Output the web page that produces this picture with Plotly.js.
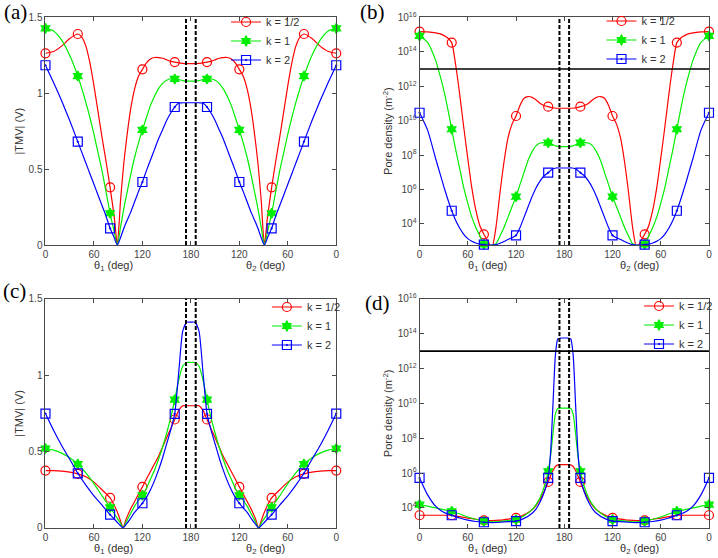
<!DOCTYPE html>
<html>
<head>
<meta charset="utf-8">
<script src="https://cdn.plot.ly/plotly-3.0.1.min.js"></script>
<style>
  html, body { margin: 0; padding: 0; background: #fff; }
  #chart { width: 718px; height: 558px; }
</style>
</head>
<body>
<div id="chart"></div>
<script>
// Series styling, one per conductivity ratio k
const kNames = ['k = 1/2', 'k = 1', 'k = 2'];
const kColors = ['#ff0000', '#00ee00', '#0000ff'];
const kSymbols = ['circle-open', 'hexagram', 'square-open-dot'];
const kSizes = [9, 7.5, 9];

// theta1 runs 0..180 on the left half, theta2 comes back 180..0 on the right half
const xTickVals = [0, 60, 120, 180, 240, 300, 360];
const xTickText = ['0', '60', '120', '180', '120', '60', '0'];
const markerTheta = [0, 40, 80, 120, 160];
const gapEdges = [174, 186];       // dashed lines either side of 180 deg
const poreThreshold = 1e13;        // solid line in (b) and (d)
const logTickExp = [4, 6, 8, 10, 12, 14, 16];

// (a) |TMV| (V)
const thetaA = [0, 10, 20, 30, 40, 45, 50, 55, 60, 65, 70, 75, 80, 85, 89, 93, 97, 100, 105, 110, 115, 120, 125, 130, 135, 140, 145, 150, 155, 160, 165, 170, 175, 180];
const tmvA_half = [1.263, 1.275, 1.31, 1.36, 1.39, 1.37, 1.31, 1.20, 1.05, 0.88, 0.71, 0.55, 0.38, 0.19, 0, 0.30, 0.54, 0.68, 0.88, 1.02, 1.11, 1.157, 1.20, 1.225, 1.235, 1.235, 1.23, 1.22, 1.21, 1.205, 1.20, 1.197, 1.195, 1.195];
const tmvA_one = [1.427, 1.41, 1.35, 1.25, 1.113, 1.03, 0.94, 0.84, 0.73, 0.61, 0.49, 0.35, 0.209, 0.09, 0, 0.12, 0.24, 0.32, 0.45, 0.57, 0.67, 0.758, 0.84, 0.92, 0.98, 1.03, 1.065, 1.085, 1.095, 1.094, 1.09, 1.083, 1.08, 1.08];
const tmvA_two = [1.184, 1.07, 0.95, 0.82, 0.681, 0.61, 0.54, 0.47, 0.40, 0.33, 0.26, 0.19, 0.11, 0.05, 0, 0.05, 0.11, 0.15, 0.21, 0.28, 0.35, 0.415, 0.49, 0.56, 0.63, 0.70, 0.76, 0.82, 0.87, 0.909, 0.935, 0.937, 0.937, 0.937];

// (b) pore density, log10 of m^-2
const thetaB = [0, 10, 20, 25, 30, 35, 40, 45, 50, 55, 60, 65, 70, 75, 80, 85, 90, 95, 100, 105, 110, 115, 120, 125, 130, 135, 140, 145, 150, 155, 160, 165, 170, 175, 180];
const poreB_half = [15.17, 15.15, 15.1, 15.05, 14.95, 14.8, 14.53, 13.2, 11.5, 9.6, 7.8, 6.1, 4.8, 3.9, 3.4, 3.0, 2.6, 3.8, 5.8, 7.6, 9.0, 9.8, 10.27, 10.9, 11.3, 11.4, 11.35, 11.2, 11.0, 10.88, 10.81, 10.75, 10.72, 10.72, 10.72];
const poreB_one = [14.92, 14.55, 13.5, 12.7, 11.8, 10.7, 9.5, 8.3, 7.2, 6.1, 5.2, 4.4, 3.8, 3.3, 2.82, 2.78, 2.76, 2.85, 3.3, 3.8, 4.4, 5.0, 5.59, 6.3, 7.0, 7.7, 8.2, 8.55, 8.7, 8.73, 8.72, 8.62, 8.52, 8.49, 8.49];
const poreB_two = [10.46, 9.45, 7.8, 7.0, 6.2, 5.45, 4.77, 4.2, 3.75, 3.4, 3.15, 3.0, 2.9, 2.83, 2.8, 2.78, 2.78, 2.8, 2.88, 2.98, 3.1, 3.2, 3.34, 3.8, 4.4, 5.0, 5.6, 6.1, 6.5, 6.8, 6.98, 7.18, 7.25, 7.25, 7.25];

// (c) |TMV| (V)
const thetaC = [0, 10, 20, 30, 40, 50, 60, 70, 80, 85, 90, 93, 96, 100, 105, 110, 115, 120, 125, 130, 135, 140, 145, 150, 155, 160, 165, 170, 175, 180];
const tmvC_half = [0.376, 0.375, 0.372, 0.366, 0.354, 0.335, 0.30, 0.25, 0.197, 0.15, 0.09, 0.045, 0, 0.06, 0.12, 0.17, 0.22, 0.269, 0.32, 0.37, 0.42, 0.47, 0.53, 0.59, 0.65, 0.71, 0.77, 0.80, 0.80, 0.80];
const tmvC_one = [0.52, 0.51, 0.49, 0.46, 0.419, 0.36, 0.29, 0.21, 0.135, 0.095, 0.055, 0.03, 0, 0.04, 0.09, 0.14, 0.18, 0.214, 0.26, 0.32, 0.38, 0.45, 0.53, 0.62, 0.72, 0.84, 0.97, 1.06, 1.083, 1.083];
const tmvC_two = [0.749, 0.64, 0.54, 0.45, 0.358, 0.28, 0.21, 0.15, 0.087, 0.06, 0.03, 0.015, 0, 0.025, 0.06, 0.1, 0.13, 0.162, 0.2, 0.25, 0.31, 0.38, 0.46, 0.55, 0.64, 0.747, 1.02, 1.29, 1.347, 1.347];

// (d) pore density, log10 of m^-2
const thetaD = [0, 10, 20, 30, 40, 50, 60, 70, 80, 90, 100, 110, 120, 130, 140, 145, 150, 155, 160, 163, 166, 169, 172, 176, 180];
const poreD_half = [3.58, 3.58, 3.58, 3.58, 3.58, 3.5, 3.42, 3.35, 3.29, 3.27, 3.3, 3.36, 3.43, 3.6, 3.9, 4.15, 4.5, 4.95, 5.49, 5.85, 6.15, 6.38, 6.47, 6.48, 6.48];
const poreD_one = [4.19, 4.1, 4.0, 3.9, 3.81, 3.65, 3.48, 3.35, 3.24, 3.2, 3.22, 3.27, 3.33, 3.55, 3.9, 4.2, 4.6, 5.2, 6.1, 7.0, 8.3, 9.4, 9.7, 9.73, 9.73];
const poreD_two = [5.72, 4.75, 4.1, 3.75, 3.58, 3.42, 3.3, 3.22, 3.18, 3.16, 3.18, 3.21, 3.24, 3.4, 3.7, 3.95, 4.35, 4.9, 5.72, 7.2, 10.0, 12.8, 13.7, 13.75, 13.75];

const axisColor = '#4a4a4a';
const tickFont = { family: 'Liberation Sans, Arial, sans-serif', size: 10, color: '#444' };

// left half is theta1, right half is the same sweep seen from theta2
function unfold(theta, vals, closeAt180) {
  const back = closeAt180 ? theta.slice(0, -1).reverse() : theta.slice().reverse();
  const backVals = closeAt180 ? vals.slice(0, -1).reverse() : vals.slice().reverse();
  return {
    x: theta.concat(back.map(t => 360 - t)),
    y: vals.concat(backVals)
  };
}

function addPanel(traces, theta, series, n, isLog) {
  const xa = n === 1 ? 'x' : 'x' + n;
  const ya = n === 1 ? 'y' : 'y' + n;
  const legendId = n === 1 ? 'legend' : 'legend' + n;
  const toY = isLog ? (v => Math.pow(10, v)) : (v => v);

  series.forEach((vals, i) => {
    const line = unfold(theta, vals, true);
    traces.push({
      x: line.x, y: line.y.map(toY), xaxis: xa, yaxis: ya,
      mode: 'lines', showlegend: false, hoverinfo: 'skip',
      line: { color: kColors[i], width: 1.2, shape: 'spline', smoothing: 0.6 }
    });

    const picked = markerTheta.map(t => vals[theta.indexOf(t)]);
    const pts = unfold(markerTheta, picked, false);
    const marker = { symbol: kSymbols[i], size: kSizes[i], color: kColors[i], line: { color: kColors[i], width: 1.2 } };
    traces.push({
      x: pts.x, y: pts.y.map(toY), xaxis: xa, yaxis: ya,
      mode: 'markers', showlegend: false, hoverinfo: 'skip', cliponaxis: false,
      marker: marker
    });

    // legend-only entry so the key shows line + marker
    traces.push({
      x: [null], y: [null], xaxis: xa, yaxis: ya, name: kNames[i], legend: legendId,
      mode: 'lines+markers',
      line: { color: kColors[i], width: 1.2 },
      marker: marker
    });
  });

  if (isLog) {
    traces.push({
      x: [0, 360], y: [poreThreshold, poreThreshold], xaxis: xa, yaxis: ya,
      mode: 'lines', showlegend: false, hoverinfo: 'skip',
      line: { color: '#000', width: 1.6 }
    });
  }
}

function xAxis(domain, anchor) {
  return {
    domain: domain, anchor: anchor, range: [0, 360],
    tickmode: 'array', tickvals: xTickVals, ticktext: xTickText,
    ticks: 'inside', ticklen: 4, tickcolor: axisColor,
    showline: true, linecolor: axisColor, linewidth: 1, mirror: 'ticks',
    showgrid: false, zeroline: false, tickfont: tickFont
  };
}

function yAxis(domain, anchor, isLog, lowExp) {
  const ax = {
    domain: domain, anchor: anchor,
    ticks: 'inside', ticklen: 4, tickcolor: axisColor,
    showline: true, linecolor: axisColor, linewidth: 1, mirror: 'ticks',
    showgrid: false, zeroline: false, tickfont: tickFont,
    title: { standoff: 2, font: { family: 'Liberation Sans, Arial, sans-serif', size: 11, color: '#333' } }
  };
  if (isLog) {
    ax.type = 'log';
    ax.range = [lowExp, 16];
    ax.tickmode = 'array';
    ax.tickvals = logTickExp.map(e => Math.pow(10, e));
    ax.ticktext = logTickExp.map(e => '10<sup>' + e + '</sup>');
    ax.title.text = 'Pore density (m<sup>-2</sup>)';
  } else {
    ax.range = [0, 1.5];
    ax.tickmode = 'array';
    ax.tickvals = [0, 0.5, 1, 1.5];
    ax.ticktext = ['0', '0.5', '1', '1.5'];
    ax.title.text = '|TMV| (V)';
  }
  return ax;
}

const traces = [];
addPanel(traces, thetaA, [tmvA_half, tmvA_one, tmvA_two], 1, false);
addPanel(traces, thetaB, [poreB_half, poreB_one, poreB_two], 2, true);
addPanel(traces, thetaC, [tmvC_half, tmvC_one, tmvC_two], 3, false);
addPanel(traces, thetaD, [poreD_half, poreD_one, poreD_two], 4, true);

const leftX = [0.0636, 0.4703];
const rightX = [0.5868, 0.9916];
const topY = [0.5609, 0.969];
const bottomY = [0.0538, 0.4645];

// dashed gap markers on every panel
const shapes = [];
['x', 'x2', 'x3', 'x4'].forEach((xr, i) => {
  const yr = i === 0 ? 'y domain' : 'y' + (i + 1) + ' domain';
  gapEdges.forEach(g => {
    shapes.push({
      type: 'line', xref: xr, yref: yr, x0: g, x1: g, y0: 0, y1: 1,
      line: { color: '#000', width: 2, dash: '4px,2px' }
    });
  });
});

const titleFont = { family: 'Liberation Sans, Arial, sans-serif', size: 11, color: '#333' };
const panelFont = { family: 'Liberation Serif, Times New Roman, serif', size: 21, color: '#000' };
const annotations = [];
[['x', 266], ['x2', 266], ['x3', 549], ['x4', 549]].forEach(([xr, py]) => {
  const yp = 1 - py / 558;
  annotations.push({ xref: xr, yref: 'paper', x: 84, y: yp, yanchor: 'middle', text: 'θ<sub>1</sub> (deg)', showarrow: false, font: titleFont });
  annotations.push({ xref: xr, yref: 'paper', x: 273, y: yp, yanchor: 'middle', text: 'θ<sub>2</sub> (deg)', showarrow: false, font: titleFont });
});
[['(a)', 2, 11.5], ['(b)', 359, 11.5], ['(c)', 1, 291], ['(d)', 365, 303]].forEach(([t, px, py]) => {
  annotations.push({
    xref: 'paper', yref: 'paper', x: px / 718, y: 1 - py / 558,
    xanchor: 'left', yanchor: 'middle', text: t, showarrow: false, font: panelFont
  });
});

function legendAt(x, y) {
  return {
    x: x, y: y, xanchor: 'left', yanchor: 'top', bgcolor: 'rgba(0,0,0,0)', borderwidth: 0,
    font: { family: 'Liberation Sans, Arial, sans-serif', size: 11, color: '#333' }
  };
}

const layout = {
  width: 718, height: 558,
  margin: { l: 0, r: 0, t: 0, b: 0 },
  paper_bgcolor: '#fff', plot_bgcolor: '#fff',
  font: { family: 'Liberation Sans, Arial, sans-serif' },
  xaxis: xAxis(leftX, 'y'), yaxis: yAxis(topY, 'x', false),
  xaxis2: xAxis(rightX, 'y2'), yaxis2: yAxis(topY, 'x2', true, 2.78),
  xaxis3: xAxis(leftX, 'y3'), yaxis3: yAxis(bottomY, 'x3', false),
  xaxis4: xAxis(rightX, 'y4'), yaxis4: yAxis(bottomY, 'x4', true, 2.85),
  legend: legendAt(227 / 718, 1 - 7.5 / 558),
  legend2: legendAt(604 / 718, 1 - 6.5 / 558),
  legend3: legendAt(268 / 718, 1 - 292.5 / 558),
  legend4: legendAt(642 / 718, 1 - 291.5 / 558),
  shapes: shapes,
  annotations: annotations,
  hovermode: false
};

Plotly.newPlot('chart', traces, layout, { staticPlot: true });
</script>
</body>
</html>
